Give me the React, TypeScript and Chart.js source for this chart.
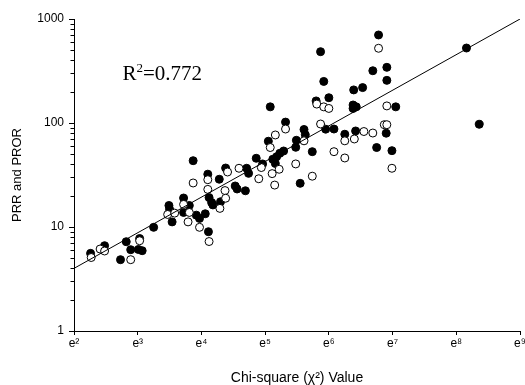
import React, { useEffect, useRef } from 'react';
import { Chart, registerables } from 'chart.js';

Chart.register(...registerables);

// ln(chi-square) and PRR values (filled circles)
const prrLnChi2 = [
  2.26, 2.48, 2.73, 2.82, 2.89, 3.03, 3.01, 3.07, 3.25, 3.49,
  3.50, 3.54, 3.72, 3.72, 3.81, 3.87, 3.92, 3.97, 4.06, 4.11,
  4.10, 4.12, 4.16, 4.18, 4.28, 4.30, 4.38, 4.53, 4.56, 4.69,
  4.71, 4.74, 4.86, 4.96, 5.05, 5.12, 5.16, 5.18, 5.23, 5.29,
  5.08, 5.32, 5.49, 5.48, 5.61, 5.63, 5.55, 5.74, 5.80, 5.87,
  5.92, 6.00, 5.95, 6.08, 6.25, 6.39, 6.53, 6.38, 6.43, 6.38,
  6.42, 6.69, 6.91, 6.91, 6.78, 7.05, 6.90, 6.75, 6.99, 8.16,
  8.36,
];
const prrValues = [
  5.58, 6.61, 4.85, 7.22, 6.05, 7.75, 6.08, 5.92, 9.93, 16.1,
  14.8, 11.2, 19.0, 13.8, 16.1, 43.4, 13.0, 12.1, 13.4, 9.01,
  32.2, 19.2, 17.2, 16.3, 28.8, 17.5, 36.9, 24.8, 23.2, 22.3,
  36.7, 32.8, 45.8, 40.4, 66.8, 44.8, 40.8, 47.4, 51.1, 53.8,
  143, 102, 68.2, 58.4, 86.6, 77.2, 26.3, 53.0, 163, 485,
  251, 175, 87.2, 87.5, 78.0, 208, 219, 149, 143, 138,
  83.8, 318, 343, 257, 702, 143, 79.8, 58.1, 54.2, 526,
  97.2,
];

// ln(chi-square) and PROR values (open circles)
const prorLnChi2 = [
  2.27, 2.41, 2.48, 2.89, 3.03, 3.47, 3.58, 3.72, 3.81, 3.79,
  3.87, 3.97, 4.12, 4.10, 4.10, 4.29, 4.41, 4.37, 4.38, 4.59,
  4.90, 4.94, 5.11, 5.15, 5.22, 5.08, 5.16, 5.32, 5.48, 5.61,
  5.74, 5.81, 5.92, 6.00, 5.87, 6.08, 6.25, 6.25, 6.40, 6.55,
  6.69, 6.87, 6.91, 6.78, 6.91, 6.99,
];
const prorValues = [
  5.09, 6.14, 5.88, 4.85, 7.38, 13.2, 13.6, 16.5, 13.8, 11.2,
  26.5, 9.93, 7.25, 28.5, 23.0, 15.1, 33.8, 22.4, 18.9, 36.7,
  29.1, 37.3, 32.6, 25.3, 35.9, 58.1, 76.7, 87.5, 40.4, 67.4,
  30.8, 152, 143, 138, 97.8, 53.0, 67.4, 46.1, 70.2, 82.8,
  80.1, 96.3, 96.3, 523, 146, 36.7,
];

// regression line end points
const fitLnChi2 = [2, 9];
const fitValues = [4.0, 1000];

const xTickExponents = [2, 3, 4, 5, 6, 7, 8, 9];
const yMajorTicks = [1, 10, 100, 1000];
const yMinorMultipliers = [2, 3, 4, 5, 6, 7, 8, 9];
const rSquaredValue = '0.772';
const rSquaredAnchorLnChi2 = 2.76;
const rSquaredAnchorValue = 259;

const SUP: Record<number, string> = {
  2: '\u00B2', 3: '\u00B3', 4: '\u2074', 5: '\u2075',
  6: '\u2076', 7: '\u2077', 8: '\u2078', 9: '\u2079',
};

const SANS = '"Liberation Sans", Arial, sans-serif';
const SERIF = '"Liberation Serif", "Times New Roman", serif';

const minorTicksPlugin = {
  id: 'minorTicks',
  afterDraw(chart: any) {
    const y = chart.scales.y;
    const left = chart.chartArea.left;
    const ctx = chart.ctx;
    ctx.save();
    ctx.strokeStyle = '#000';
    ctx.lineWidth = 1;
    ctx.beginPath();
    for (let i = 0; i < yMajorTicks.length - 1; i++) {
      for (const m of yMinorMultipliers) {
        const py = Math.round(y.getPixelForValue(yMajorTicks[i] * m)) + 0.5;
        ctx.moveTo(left - 3.5, py);
        ctx.lineTo(left, py);
      }
    }
    ctx.stroke();
    ctx.restore();
  },
};

const rSquaredPlugin = {
  id: 'rSquared',
  afterDatasetsDraw(chart: any) {
    const ctx = chart.ctx;
    const x = chart.scales.x.getPixelForValue(rSquaredAnchorLnChi2);
    const y = chart.scales.y.getPixelForValue(rSquaredAnchorValue);
    ctx.save();
    ctx.fillStyle = '#000';
    ctx.textBaseline = 'alphabetic';
    ctx.textAlign = 'left';
    ctx.font = `21px ${SERIF}`;
    ctx.fillText('R', x, y);
    const w1 = ctx.measureText('R').width;
    ctx.font = `13px ${SERIF}`;
    ctx.fillText('2', x + w1, y - 8);
    const w2 = ctx.measureText('2').width;
    ctx.font = `21px ${SERIF}`;
    ctx.fillText('=' + rSquaredValue, x + w1 + w2, y);
    ctx.restore();
  },
};

export default function App() {
  const canvasRef = useRef<HTMLCanvasElement | null>(null);

  useEffect(() => {
    const canvas = canvasRef.current;
    if (!canvas) return;
    const prrPoints = prrLnChi2.map((x, i) => ({ x, y: prrValues[i] }));
    const prorPoints = prorLnChi2.map((x, i) => ({ x, y: prorValues[i] }));
    const fitPoints = fitLnChi2.map((x, i) => ({ x, y: fitValues[i] }));

    const chart = new Chart(canvas, {
      type: 'scatter',
      data: {
        datasets: [
          {
            type: 'line',
            label: 'Regression',
            data: fitPoints,
            borderColor: '#000',
            borderWidth: 1,
            pointRadius: 0,
            fill: false,
            order: 0,
          } as any,
          {
            label: 'PROR',
            data: prorPoints,
            backgroundColor: '#fff',
            borderColor: '#000',
            borderWidth: 1,
            pointRadius: 4,
            order: 1,
          },
          {
            label: 'PRR',
            data: prrPoints,
            backgroundColor: '#000',
            borderColor: '#000',
            borderWidth: 1,
            pointRadius: 4,
            order: 2,
          },
        ],
      },
      options: {
        animation: false,
        responsive: false,
        devicePixelRatio: 1,
        layout: { padding: { top: 19, right: 4, left: 0, bottom: 0 } },
        plugins: {
          legend: { display: false },
          tooltip: { enabled: false },
        },
        scales: {
          x: {
            type: 'linear',
            position: 'bottom',
            min: 2,
            max: 9,
            afterBuildTicks: (s: any) => {
              s.ticks = xTickExponents.map((v) => ({ value: v }));
            },
            afterFit: (s: any) => {
              s.height = 54;
              s.paddingLeft = 0;
              s.paddingRight = 0;
            },
            grid: {
              drawOnChartArea: false,
              drawTicks: true,
              tickLength: 4,
              color: '#000',
              tickColor: '#000',
            },
            border: { display: true, color: '#000', width: 1 },
            ticks: {
              callback: (v: any) => 'e' + (SUP[Number(v)] || ''),
              font: { family: SANS, size: 12 },
              color: '#000',
              padding: 1,
              maxRotation: 0,
              autoSkip: false,
            },
            title: {
              display: true,
              text: 'Chi-square (\u03C7\u00B2) Value',
              font: { family: SANS, size: 14 },
              color: '#000',
              padding: { top: 0, bottom: -2 },
            },
          },
          y: {
            type: 'logarithmic',
            min: 1,
            max: 1000,
            afterBuildTicks: (s: any) => {
              s.ticks = yMajorTicks.map((v) => ({ value: v, major: true }));
            },
            afterFit: (s: any) => {
              s.width = 74;
              s.paddingTop = 0;
              s.paddingBottom = 0;
            },
            grid: {
              drawOnChartArea: false,
              drawTicks: true,
              tickLength: 5,
              color: '#000',
              tickColor: '#000',
            },
            border: { display: true, color: '#000', width: 1 },
            ticks: {
              callback: (v: any) => String(v),
              font: { family: SANS, size: 12 },
              color: '#000',
              padding: 5,
              autoSkip: false,
            },
            title: {
              display: true,
              text: 'PRR and PROR',
              font: { family: SANS, size: 13 },
              color: '#000',
              padding: { top: 10, bottom: 0 },
            },
          },
        },
      } as any,
      plugins: [minorTicksPlugin, rSquaredPlugin],
    });

    return () => chart.destroy();
  }, []);

  return (
    <div style={{ position: 'absolute', left: 0, top: 0, width: 525, height: 385, background: '#fff' }}>
      <canvas ref={canvasRef} width={525} height={385} style={{ display: 'block' }} />
    </div>
  );
}
